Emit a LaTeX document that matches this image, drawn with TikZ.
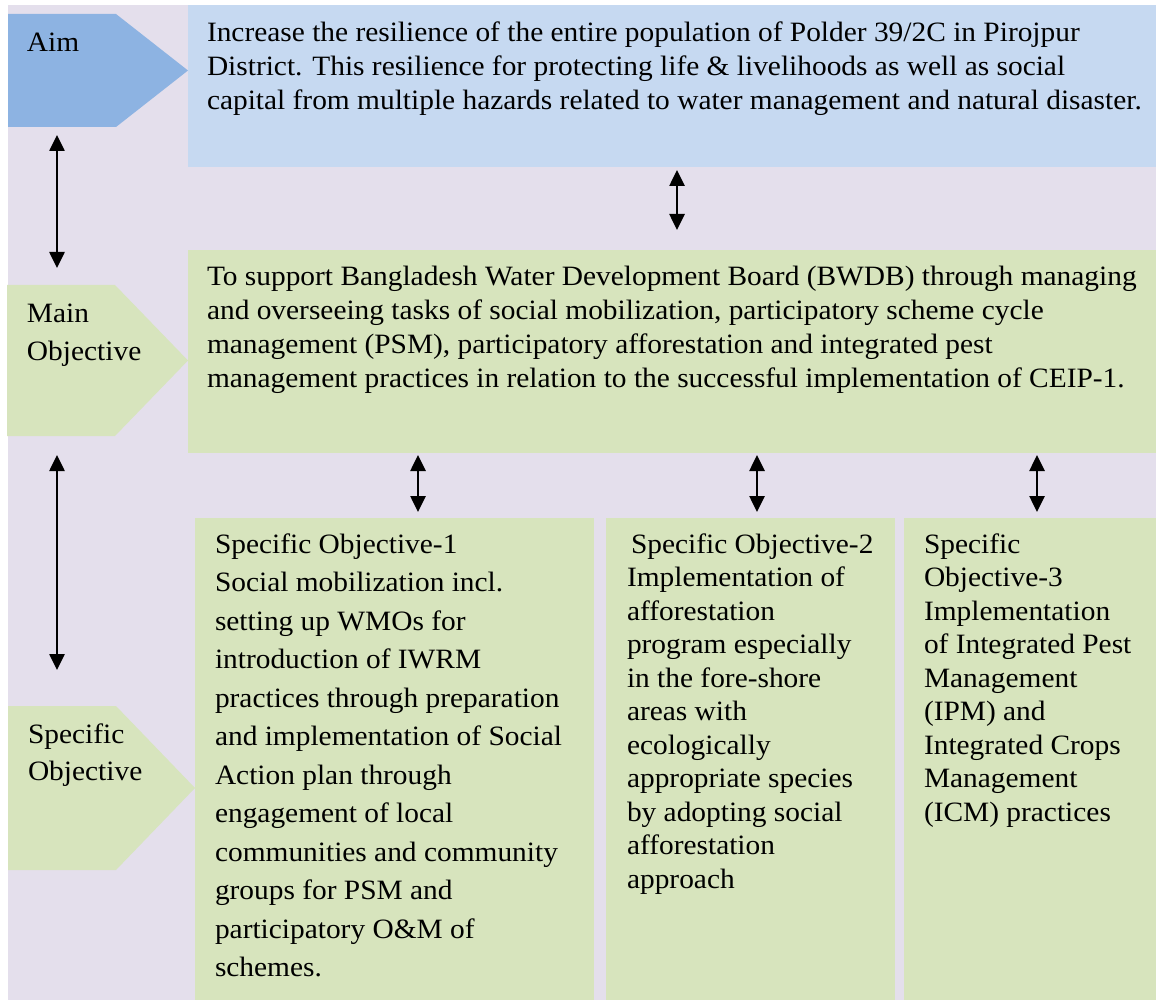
\documentclass[tikz,border=0pt]{standalone}
\usepackage{fontspec}
\setmainfont{Liberation Serif}[FakeStretch=1.05]
\usetikzlibrary{arrows.meta}

\definecolor{lav}{HTML}{E4DFEC}
\definecolor{aimdark}{HTML}{8DB3E2}
\definecolor{aimlight}{HTML}{C6D9F1}
\definecolor{objgreen}{HTML}{D7E4BD}

\begin{document}
\begin{tikzpicture}[x=1pt,y=-1pt,
  area/.style={draw=none, inner sep=0pt, outer sep=0pt, anchor=north west},
  txt/.style={anchor=north west, inner sep=0pt, outer sep=0pt, align=left},
  biarrow/.style={line width=2.6pt,
    {Triangle[width=15pt,length=16pt]}-{Triangle[width=15pt,length=16pt]}}
]
\useasboundingbox (0,0) rectangle (1156,1000);
\fill[lav] (8,5) rectangle (1156,1000);

% left-hand tags (pentagons)
\node[area, minimum width=180pt, minimum height=113pt] (aimtag) at (8,14) {};
\fill[aimdark] (aimtag.north west) -- ([xshift=-72pt]aimtag.north east) -- (aimtag.east)
  -- ([xshift=-72pt]aimtag.south east) -- (aimtag.south west) -- cycle;

\node[area, minimum width=181pt, minimum height=151pt] (maintag) at (7,285) {};
\fill[objgreen] (maintag.north west) -- ([xshift=-73pt]maintag.north east) -- (maintag.east)
  -- ([xshift=-73pt]maintag.south east) -- (maintag.south west) -- cycle;

\node[area, minimum width=187pt, minimum height=164pt] (spectag) at (8,706) {};
\fill[objgreen] (spectag.north west) -- ([xshift=-79pt]spectag.north east) -- (spectag.east)
  -- ([xshift=-79pt]spectag.south east) -- (spectag.south west) -- cycle;

% content boxes
\node[area, fill=aimlight, minimum width=968pt, minimum height=162pt] (aimbox) at (188,5) {};
\node[area, fill=objgreen, minimum width=968pt, minimum height=203pt] (mainbox) at (188,250) {};
\node[area, fill=objgreen, minimum width=399pt, minimum height=482pt] (so1) at (195,518) {};
\node[area, fill=objgreen, minimum width=289pt, minimum height=482pt] (so2) at (606,518) {};
\node[area, fill=objgreen, minimum width=252pt, minimum height=482pt] (so3) at (904,518) {};

% tag labels
\node[txt, font=\fontsize{28}{34}\selectfont] (aimlbl) at (27,28.2) {\strut Aim};
\node[txt, font=\fontsize{28}{38}\selectfont] (mainlbl) at (27,295.4) {\strut Main\\Objective};
\node[txt, font=\fontsize{28}{37}\selectfont] (speclbl) at (28,717.1) {\strut Specific\\Objective};

% box texts
\node[txt, font=\fontsize{28}{34}\selectfont] (aimtxt) at (207,18.2) {\strut Increase the resilience of the entire population of Polder 39/2C in Pirojpur\\
District. This resilience for protecting life \& livelihoods as well as social\\
capital from multiple hazards related to water management and natural disaster.};

\node[txt, font=\fontsize{28}{34}\selectfont] (maintxt) at (207,261.2) {\strut To support Bangladesh Water Development Board (BWDB) through managing\\
and overseeing tasks of social mobilization, participatory scheme cycle\\
management (PSM), participatory afforestation and integrated pest\\
management practices in relation to the successful implementation of CEIP-1.};

\node[txt, font=\fontsize{28}{38.5}\selectfont] (so1txt) at (215,526.05) {\strut Specific Objective-1\\
Social mobilization incl.\\
setting up WMOs for\\
introduction of IWRM\\
practices through preparation\\
and implementation of Social\\
Action plan through\\
engagement of local\\
communities and community\\
groups for PSM and\\
participatory O\&M of\\
schemes.};

\node[txt, font=\fontsize{28}{33.5}\selectfont] (so2txt) at (627,529.55) {\strut\hspace{4pt}Specific Objective-2\\
Implementation of\\
afforestation\\
program especially\\
in the fore-shore\\
areas with\\
ecologically\\
appropriate species\\
by adopting social\\
afforestation\\
approach};

\node[txt, font=\fontsize{28}{33.5}\selectfont] (so3txt) at (924,529.55) {\strut Specific\\
Objective-3\\
Implementation\\
of Integrated Pest\\
Management\\
(IPM) and\\
Integrated Crops\\
Management\\
(ICM) practices};

% connectors
\draw[biarrow, shorten <=8pt, shorten >=17pt]
  ([xshift=49pt]aimtag.south west) -- ([xshift=50pt]maintag.north west);
\draw[biarrow, shorten <=19pt, shorten >=36pt]
  ([xshift=50pt]maintag.south west) -- ([xshift=49pt]spectag.north west);
\draw[biarrow, shorten <=3pt, shorten >=20pt]
  ([xshift=489pt]aimbox.south west) -- ([xshift=489pt]mainbox.north west);
\draw[biarrow, shorten <=2pt, shorten >=6pt]
  ([xshift=230pt]mainbox.south west) -- ([xshift=223pt]so1.north west);
\draw[biarrow, shorten <=2pt, shorten >=6pt]
  ([xshift=569pt]mainbox.south west) -- ([xshift=151pt]so2.north west);
\draw[biarrow, shorten <=2pt, shorten >=6pt]
  ([xshift=849pt]mainbox.south west) -- ([xshift=133pt]so3.north west);
\end{tikzpicture}
\end{document}
